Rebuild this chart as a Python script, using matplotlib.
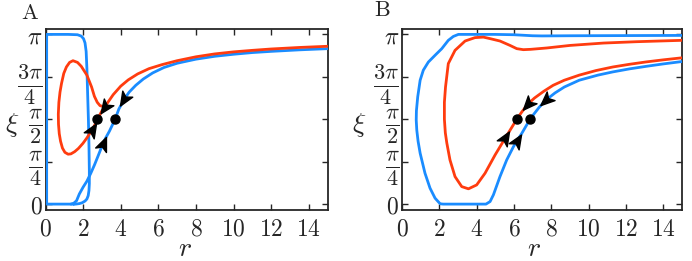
import numpy as np
import matplotlib
matplotlib.use("Agg")
import matplotlib.pyplot as plt
from matplotlib.markers import MarkerStyle
from matplotlib.path import Path
from matplotlib.transforms import Affine2D

plt.rcParams['mathtext.fontset'] = 'cm'
plt.rcParams['font.family'] = ['DejaVu Serif']

BLUE = "#1a8cff"
RED = "#ff3c0f"

# ---- panel A (xi in units of pi) ----
a_blue_loop_r = [1.5, 0.9, 0.3, 0.06, 0.06, 0.06, 0.5, 1.2, 1.7, 1.9, 2.02, 2.1, 2.16, 2.2, 2.24, 2.28,
                 2.31, 2.33, 2.33, 2.31, 2.27, 2.2, 2.1, 1.95, 1.8, 1.6, 1.5]
a_blue_loop_xi = [0.0, 0.0, 0.0, 0.0, 0.5, 1.0, 1.0, 1.0, 0.998, 0.99, 0.975, 0.95, 0.9, 0.8, 0.65, 0.5,
                  0.35, 0.2, 0.12, 0.08, 0.05, 0.03, 0.018, 0.008, 0.003, 0.0, 0.0]

a_blue_low_r = [1.35, 1.5, 1.65, 1.8, 2.0, 2.2, 2.4, 2.6, 2.8, 3.05, 3.2, 3.4, 3.55, 3.7]
a_blue_low_xi = [0.0, 0.005, 0.02, 0.06, 0.1, 0.135, 0.18, 0.23, 0.285, 0.355, 0.39, 0.43, 0.465, 0.5]

a_blue_up_r = [15.0, 13.5, 12.0, 11.0, 10.0, 9.0, 8.0, 7.0, 6.3, 5.7, 5.2, 4.8, 4.45, 4.2, 3.9, 3.7]
a_blue_up_xi = [0.916, 0.909, 0.9, 0.893, 0.883, 0.871, 0.854, 0.83, 0.805, 0.773, 0.737, 0.7, 0.66,
                0.62, 0.56, 0.5]

a_red_up_r = [15.0, 13.5, 12.0, 11.0, 10.0, 9.0, 8.0, 7.0, 6.2, 5.5, 4.9, 4.4, 4.0, 3.6, 3.3, 3.15, 3.0, 2.76]
a_red_up_xi = [0.93, 0.923, 0.914, 0.906, 0.897, 0.885, 0.868, 0.845, 0.822, 0.798, 0.767, 0.732, 0.695,
               0.645, 0.597, 0.572, 0.55, 0.5]

a_red_loop_r = [3.2, 3.05, 2.9, 2.75, 2.6, 2.45, 2.2, 1.9, 1.7, 1.46, 1.28, 1.11, 0.97, 0.85, 0.77, 0.71,
                0.68, 0.69, 0.73, 0.8, 0.9, 1.03, 1.2, 1.35, 1.55, 1.75, 1.99, 2.2, 2.45, 2.6, 2.76]
a_red_loop_xi = [0.582, 0.576, 0.58, 0.6, 0.635, 0.69, 0.76, 0.812, 0.835, 0.845, 0.835, 0.808, 0.77,
                 0.711, 0.66, 0.6, 0.53, 0.47, 0.415, 0.37, 0.33, 0.305, 0.294, 0.296, 0.309, 0.328,
                 0.358, 0.39, 0.434, 0.462, 0.5]

a_saddles_r = [2.76, 3.7]
# arrow spots: (curve, r, xi/pi)
a_arrows = [("red_up", 3.15, 0.57), ("red_loop", 2.45, 0.43), ("blue_up", 4.2, 0.62), ("blue_low", 3.05, 0.36)]

# ---- panel B ----
b_blue_loop_r = [15.0, 12.0, 9.0, 7.5, 7.0, 6.5, 6.0, 5.0, 4.0, 3.02, 2.75, 2.48, 2.13, 1.77, 1.41, 1.14,
                 0.97, 0.84, 0.77, 0.76, 0.79, 0.86, 0.97, 1.23, 1.5, 1.77, 2.04, 2.2, 3.0, 4.0, 4.5,
                 4.72, 4.9, 5.25, 5.61, 5.97, 6.15, 6.42, 6.86]
b_blue_loop_xi = [0.994, 0.993, 0.992, 0.991, 0.992, 0.995, 0.998, 1.0, 1.0, 1.0, 0.988, 0.965, 0.916,
                  0.877, 0.837, 0.789, 0.73, 0.632, 0.55, 0.495, 0.436, 0.37, 0.3, 0.182, 0.094, 0.035,
                  0.002, 0.0, 0.0, 0.0, 0.0, 0.015, 0.055, 0.162, 0.26, 0.338, 0.37, 0.417, 0.5]

b_blue_up_r = [15.0, 14.0, 13.1, 12.2, 11.3, 10.5, 9.5, 8.7, 8.2, 7.7, 7.35, 7.1, 6.86]
b_blue_up_xi = [0.84, 0.826, 0.812, 0.797, 0.779, 0.76, 0.73, 0.69, 0.655, 0.612, 0.57, 0.535, 0.5]

b_red_up_r = [15.0, 14.0, 13.1, 12.2, 11.3, 10.4, 9.5, 8.7, 8.1, 7.6, 7.1, 6.75, 6.4, 6.15]
b_red_up_xi = [0.862, 0.85, 0.838, 0.824, 0.808, 0.787, 0.76, 0.73, 0.7, 0.665, 0.625, 0.59, 0.54, 0.5]

b_red_loop_r = [15.0, 12.58, 10.8, 9.0, 7.76, 6.9, 6.5, 6.15, 5.79, 5.25, 4.72, 4.36, 3.91, 3.38, 2.84,
                2.48, 2.33, 2.27, 2.27, 2.32, 2.4, 2.57, 2.84, 3.2, 3.56, 4.0, 4.45, 4.99, 5.52, 6.15]
b_red_loop_xi = [0.965, 0.957, 0.949, 0.935, 0.92, 0.912, 0.91, 0.916, 0.935, 0.961, 0.975, 0.984,
                 0.981, 0.961, 0.906, 0.828, 0.69, 0.6, 0.5, 0.42, 0.36, 0.26, 0.162, 0.103, 0.09,
                 0.113, 0.182, 0.29, 0.387, 0.5]

b_saddles_r = [6.15, 6.86]
b_arrows = [("red_up", 6.75, 0.59), ("red_loop", 5.52, 0.39), ("blue_up", 7.7, 0.61), ("blue_loop", 6.15, 0.37)]

xticks = [0, 2, 4, 6, 8, 10, 12, 14]
yticks = [0, np.pi / 4, np.pi / 2, 3 * np.pi / 4, np.pi]
yticklabels = [r'$0$', r'$\frac{\pi}{4}$', r'$\frac{\pi}{2}$', r'$\frac{3\pi}{4}$', r'$\pi$']

# arrow head shape (stealth-like)
head = Path([(0.55, 0.0), (-0.45, 0.42), (-0.2, 0.0), (-0.45, -0.42), (0.55, 0.0)],
            [Path.MOVETO, Path.LINETO, Path.LINETO, Path.LINETO, Path.CLOSEPOLY])


def draw_panel(ax, curves, saddles, arrows, ylab_x, xlab_x):
    for name, (r, xi, col) in curves.items():
        ax.plot(r, np.array(xi) * np.pi, color=col, lw=2.0, solid_capstyle='round', zorder=3)
    ax.set_xlim(0, 15)
    ax.set_ylim(-0.1, np.pi + 0.1)
    ax.set_xticks(xticks)
    ax.set_xticklabels([r'$%d$' % t for t in xticks])
    ax.set_yticks(yticks)
    ax.set_yticklabels(yticklabels)
    ax.tick_params(direction='in', top=True, right=True, length=4, width=1.0,
                   color='#262626', labelsize=17, labelcolor='#262626')
    ax.tick_params(axis='x', pad=6)
    ax.tick_params(axis='y', pad=2)
    # the fractions need a bigger size to look like the original
    for lab in ax.get_yticklabels()[1:4]:
        lab.set_fontsize(23)
    for s in ax.spines.values():
        s.set_linewidth(1.3)
        s.set_color('#262626')
    ax.set_ylabel(r'$\xi$', fontsize=20, rotation=0, va='center', ha='center', color='#262626')
    ax.yaxis.set_label_coords(ylab_x, 0.47)
    ax.set_xlabel(r'$r$', fontsize=20, va='center', color='#262626')
    ax.xaxis.set_label_coords(xlab_x, -0.215)

    ax.plot(saddles, [np.pi / 2] * len(saddles), 'o', color='k', ms=6.5, zorder=5)

    # arrows pointing toward the saddle (every curve ends at its saddle)
    for name, r0, xi0 in arrows:
        r, xi, col = curves[name]
        pts = np.column_stack([r, np.array(xi) * np.pi])
        dist = np.hypot(np.array(r) - r0, (np.array(xi) - xi0) * 4)
        i = int(np.argmin(dist))
        i = max(1, min(i, len(r) - 2))
        p = ax.transData.transform(pts)
        d = p[i + 1] - p[i - 1]
        ang = np.degrees(np.arctan2(d[1], d[0]))
        m = MarkerStyle(head, transform=Affine2D().rotate_deg(ang))
        ax.plot([pts[i, 0]], [pts[i, 1]], marker=m, color='k', ms=11, ls='none', zorder=6)


fig = plt.figure(figsize=(6.92, 2.61), dpi=100)
axA = fig.add_axes([0.0658, 0.1973, 0.4075, 0.6916])
axB = fig.add_axes([0.581, 0.1973, 0.4043, 0.6916])

curvesA = {
    "blue_loop": (a_blue_loop_r, a_blue_loop_xi, BLUE),
    "blue_low": (a_blue_low_r, a_blue_low_xi, BLUE),
    "blue_up": (a_blue_up_r, a_blue_up_xi, BLUE),
    "red_up": (a_red_up_r, a_red_up_xi, RED),
    "red_loop": (a_red_loop_r, a_red_loop_xi, RED),
}
curvesB = {
    "blue_loop": (b_blue_loop_r, b_blue_loop_xi, BLUE),
    "blue_up": (b_blue_up_r, b_blue_up_xi, BLUE),
    "red_up": (b_red_up_r, b_red_up_xi, RED),
    "red_loop": (b_red_loop_r, b_red_loop_xi, RED),
}

for ax in (axA, axB):
    ax.set_xlim(0, 15)
    ax.set_ylim(-0.1, np.pi + 0.1)

draw_panel(axA, curvesA, a_saddles_r, a_arrows, -0.119, 0.495)
draw_panel(axB, curvesB, b_saddles_r, b_arrows, -0.153, 0.47)

fig.text(0.0434, 0.952, r'$\mathrm{A}$', fontsize=16, ha='center', va='center', color='#262626')
fig.text(0.553, 0.960, r'$\mathrm{B}$', fontsize=16, ha='center', va='center', color='#262626')

fig.savefig("out.png", dpi=100)
